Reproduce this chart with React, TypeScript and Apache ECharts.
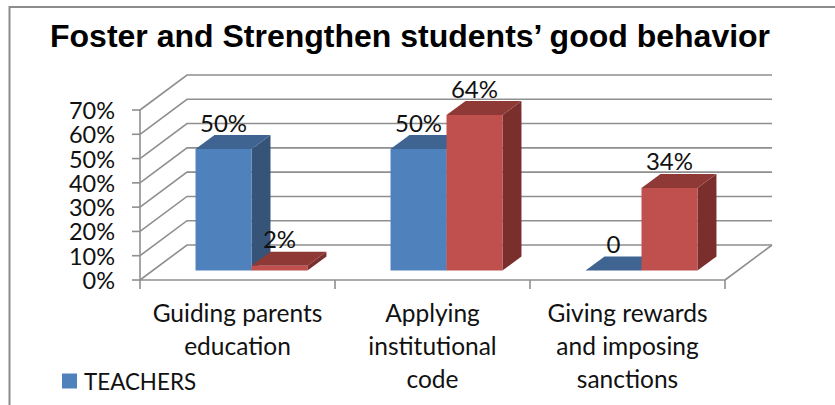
import React, { useEffect, useRef } from "react";
import * as echarts from "echarts";

const titleText = "Foster and Strengthen students’ good behavior";
const categories = [
  "Guiding parents\neducation",
  "Applying\ninstitutional\ncode",
  "Giving rewards\nand imposing\nsanctions",
];
const teachers = [50, 50, 0];
const students = [2, 64, 34];
const yTicks = [0, 10, 20, 30, 40, 50, 60, 70];

const GRID = { left: 140, right: 110, top: 110, bottom: 125 };
const WALL = { dx: 47, dy: -35 };
const BAR_OFFSET = { dx: 14, dy: -9.5 };
const BAR_DEPTH = { dx: 19, dy: -14 };
const BAR_WIDTH_RATIO = 0.287;
const GRID_COLOR = "#8f8f8f";
const GRID_WIDTH = 1.6;
const FONT = "Lato, Carlito, sans-serif";
const Y_TICK_LENGTH = 8;
const X_TICK_LENGTH = 9;

const poly = (points: number[][], fill: string) => ({
  type: "polygon",
  shape: { points },
  style: { fill, stroke: null },
});

const seg = (x1: number, y1: number, x2: number, y2: number) => ({
  type: "line",
  shape: { x1, y1, x2, y2 },
  style: { stroke: GRID_COLOR, lineWidth: GRID_WIDTH },
});

// One 3D bar: front face, top and right side, with the value printed above it.
const barRenderer =
  (slot: number, face: string, top: string, side: string) =>
  (_params: any, api: any) => {
    const cat = api.value(0);
    const value = api.value(1);
    const base = api.coord([cat, 0]);
    const head = api.coord([cat, value]);
    const w = api.size([1, 0])[0] * BAR_WIDTH_RATIO;
    const x0 = base[0] + BAR_OFFSET.dx + (slot - 1) * w;
    const x1 = x0 + w;
    const yb = base[1] + BAR_OFFSET.dy;
    const yt = head[1] + BAR_OFFSET.dy;
    const { dx, dy } = BAR_DEPTH;
    return {
      type: "group",
      children: [
        poly([[x1, yb], [x1 + dx, yb + dy], [x1 + dx, yt + dy], [x1, yt]], side),
        poly([[x0, yt], [x0 + dx, yt + dy], [x1 + dx, yt + dy], [x1, yt]], top),
        poly([[x0, yb], [x1, yb], [x1, yt], [x0, yt]], face),
        {
          type: "text",
          x: (x0 + x1) / 2,
          y: yt - 27,
          style: {
            text: value === 0 ? "0" : value + "%",
            fill: "#111111",
            font: `24px ${FONT}`,
            lineHeight: 20,
            align: "center",
            verticalAlign: "middle",
          },
        },
      ],
    };
  };

// Tick, side wall and back wall line for a single value.
const wallRenderer = (params: any, api: any) => {
  const y = api.coord([0, api.value(0)])[1];
  const xl = params.coordSys.x;
  const xr = xl + params.coordSys.width;
  return {
    type: "group",
    children: [
      seg(xl - Y_TICK_LENGTH, y, xl, y),
      {
        type: "polyline",
        shape: {
          points: [
            [xl, y],
            [xl + WALL.dx, y + WALL.dy],
            [xr + WALL.dx, y + WALL.dy],
          ],
        },
        style: { stroke: GRID_COLOR, lineWidth: GRID_WIDTH, fill: null },
      },
    ],
  };
};

// Front edges of the box: value axis, category axis with its ticks, floor edge.
const frameRenderer = (params: any, api: any) => {
  const { x, y, width, height } = params.coordSys;
  const bottom = y + height;
  const right = x + width;
  const step = api.size([1, 0])[0];
  return {
    type: "group",
    children: [
      seg(x, y, x, bottom),
      seg(x, bottom, right, bottom),
      seg(right, bottom, right + WALL.dx, bottom + WALL.dy),
      ...[0, 1, 2, 3].map((i) =>
        seg(x + i * step, bottom, x + i * step, bottom + X_TICK_LENGTH)
      ),
    ],
  };
};

export default function App() {
  const ref = useRef<HTMLDivElement>(null);
  useEffect(() => {
    const chart = echarts.init(ref.current!, undefined, { renderer: "svg" });
    chart.setOption({
      animation: false,
      backgroundColor: "#ffffff",
      title: {
        text: titleText,
        left: 45,
        top: 15,
        textStyle: {
          fontFamily: "Liberation Sans, Arial, sans-serif",
          fontWeight: "bold",
          fontSize: 32,
          color: "#000000",
        },
      },
      legend: {
        data: ["TEACHERS"],
        left: 57,
        top: 365,
        itemWidth: 15,
        itemHeight: 15,
        icon: "rect",
        textStyle: {
          fontFamily: FONT,
          fontSize: 22.4,
          color: "#111111",
          padding: [0, 0, 0, 2],
        },
      },
      grid: GRID,
      xAxis: {
        type: "category",
        data: categories,
        axisLine: { show: false },
        axisTick: { show: false },
        axisLabel: {
          interval: 0,
          margin: 16,
          fontFamily: FONT,
          fontSize: 24.5,
          lineHeight: 33,
          color: "#111111",
        },
      },
      yAxis: {
        type: "value",
        min: 0,
        max: 70,
        interval: 10,
        splitLine: { show: false },
        axisLine: { show: false },
        axisTick: { show: false },
        axisLabel: {
          margin: 25,
          formatter: "{value}%",
          fontFamily: FONT,
          fontSize: 23.5,
          lineHeight: 20,
          color: "#111111",
        },
      },
      graphic: [
        {
          type: "polyline",
          shape: { points: [[9.5, 405], [9.5, 7], [835, 7]] },
          style: { stroke: "#8c8c8c", lineWidth: 2, fill: null },
        },
      ],
      series: [
        {
          type: "custom",
          name: "walls",
          z: 1,
          data: yTicks.map((v) => [v]),
          encode: { y: 0 },
          renderItem: wallRenderer,
        },
        {
          type: "custom",
          name: "frame",
          z: 1,
          data: [[0]],
          encode: { y: 0 },
          renderItem: frameRenderer,
        },
        {
          type: "custom",
          name: "TEACHERS",
          z: 3,
          itemStyle: { color: "#4F81BD" },
          data: teachers.map((v, i) => [i, v]),
          encode: { x: 0, y: 1 },
          renderItem: barRenderer(0, "#4F81BD", "#3F6491", "#365478"),
        },
        {
          type: "custom",
          name: "STUDENTS",
          z: 4,
          itemStyle: { color: "#C0504D" },
          data: students.map((v, i) => [i, v]),
          encode: { x: 0, y: 1 },
          renderItem: barRenderer(1, "#C0504D", "#8E3936", "#7A2F2D"),
        },
      ],
    });
    return () => chart.dispose();
  }, []);
  return (
    <div
      ref={ref}
      style={{ position: "fixed", left: 0, top: 0, width: 835, height: 405 }}
    />
  );
}
